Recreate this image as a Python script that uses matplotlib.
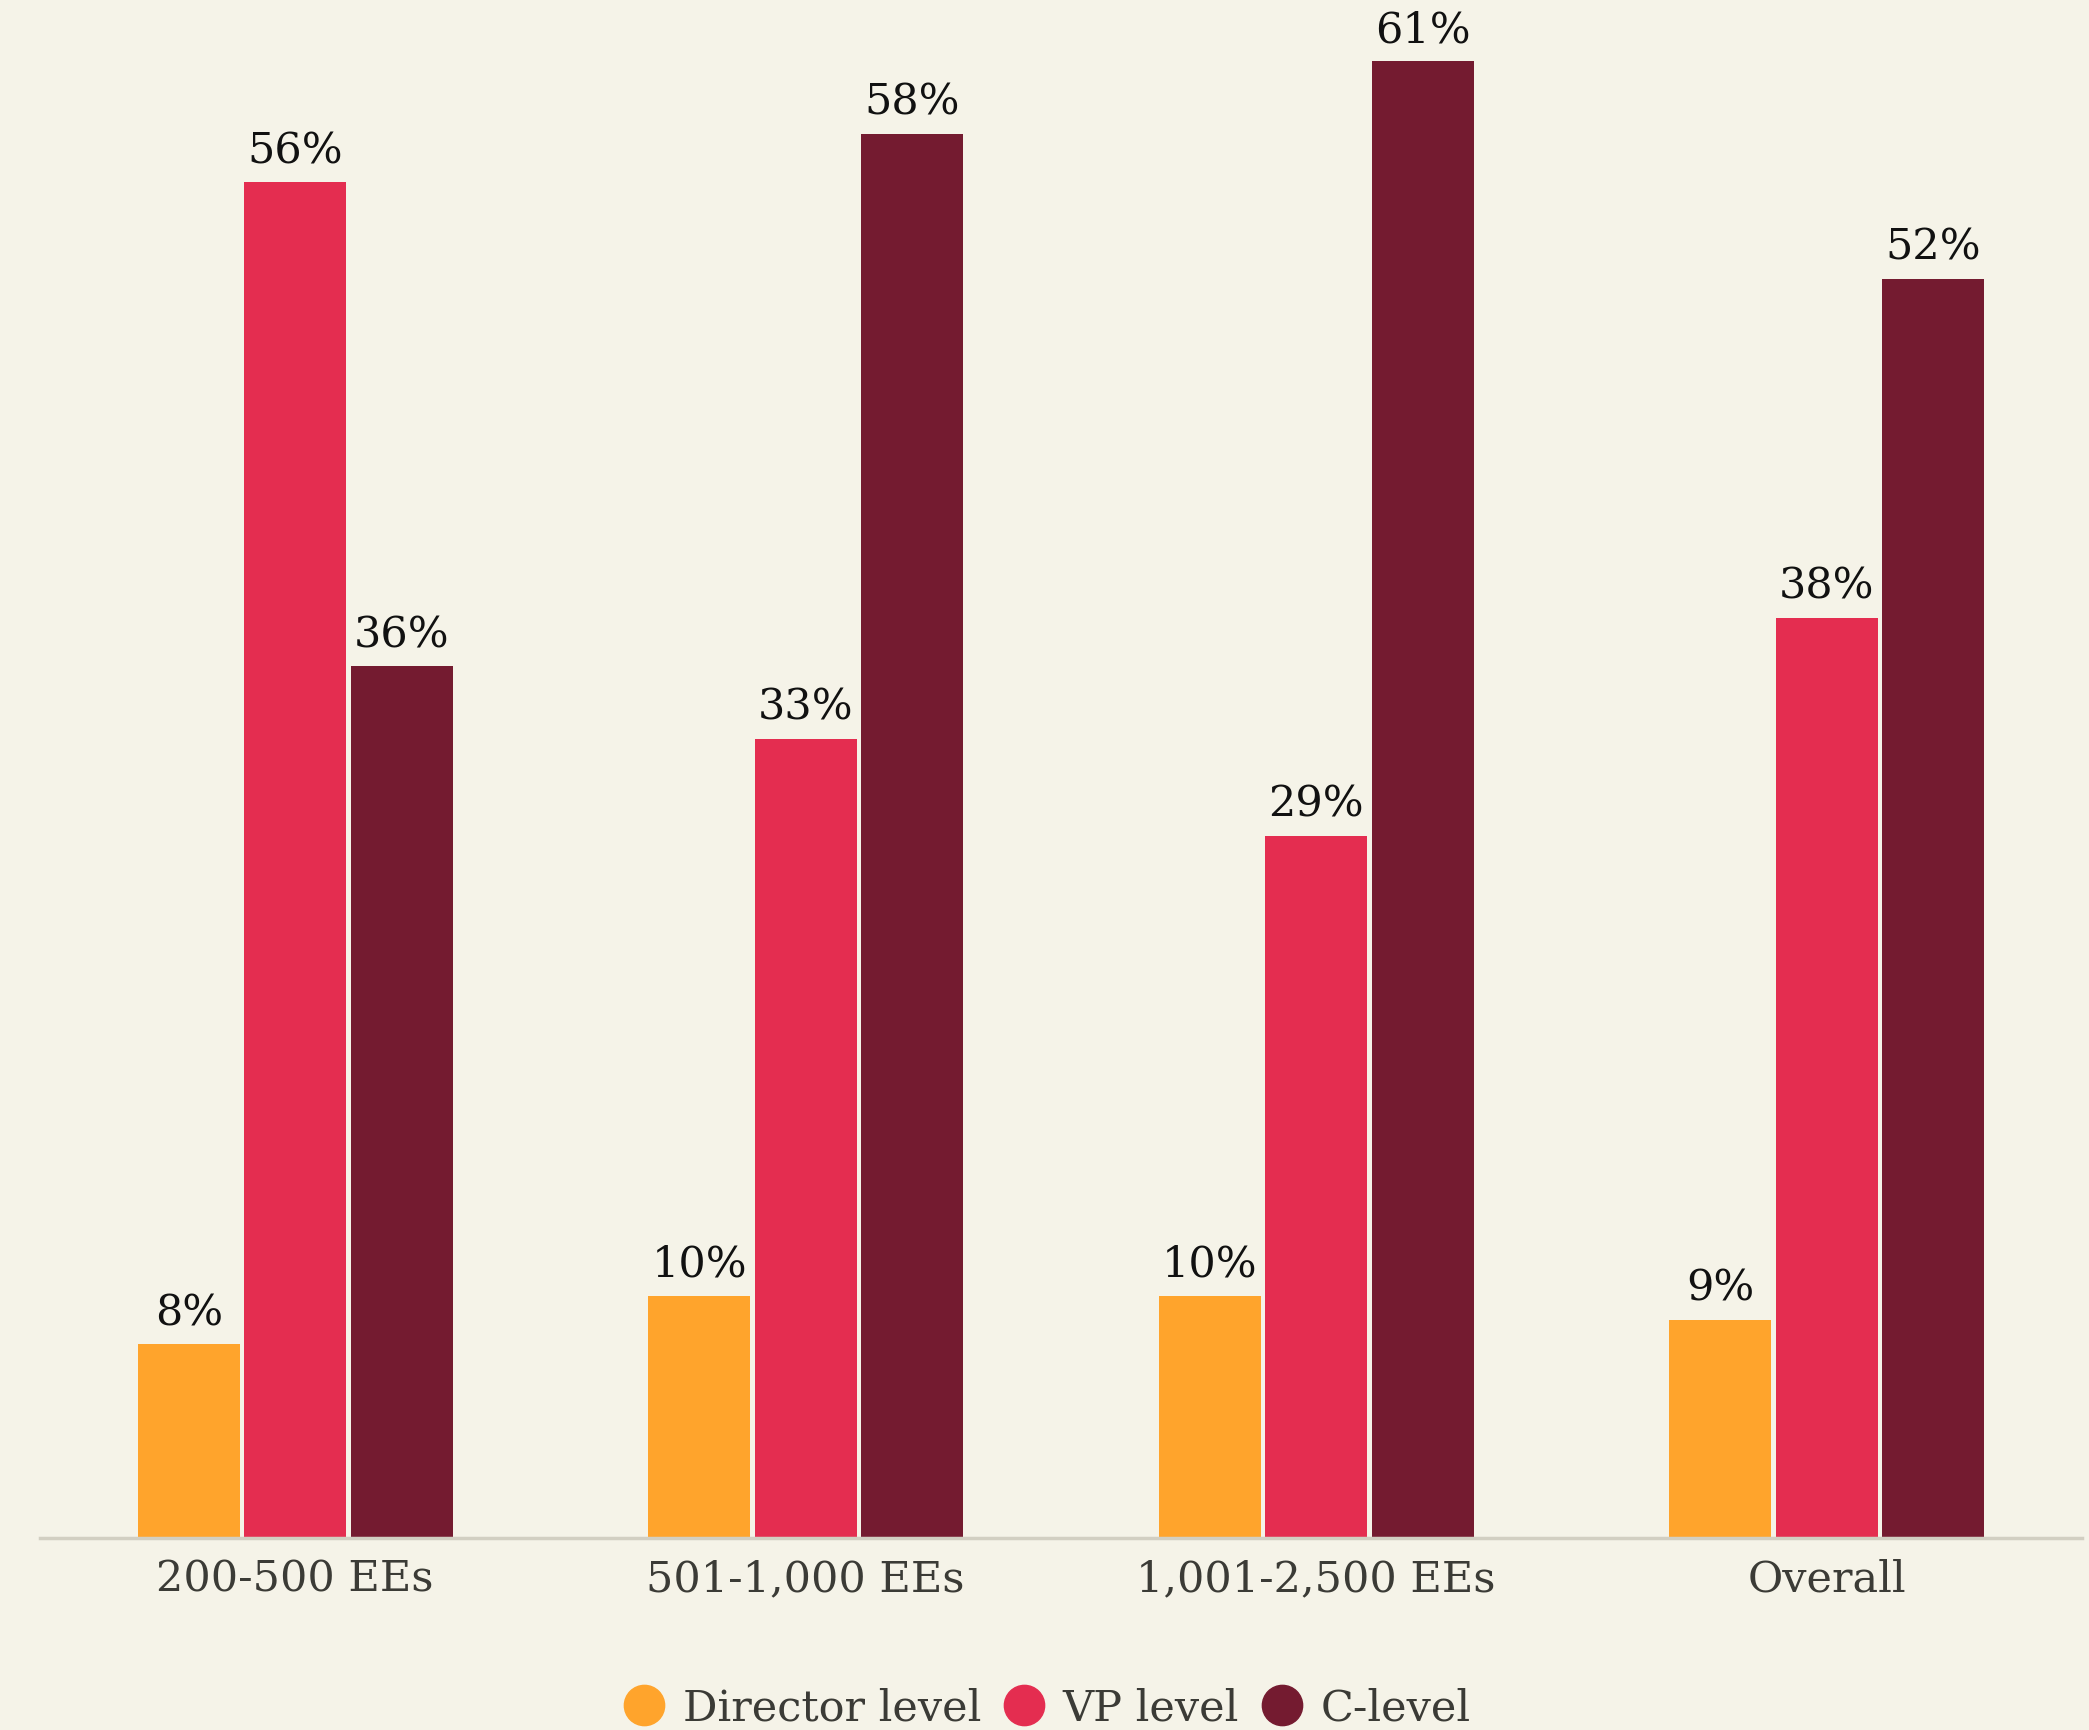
import numpy as np
import matplotlib.pyplot as plt
from matplotlib.lines import Line2D

categories = ["200-500 EEs", "501-1,000 EEs", "1,001-2,500 EEs", "Overall"]
series_names = ["Director level", "VP level", "C-level"]
director = [8, 10, 10, 9]
vp = [56, 33, 29, 38]
c_level = [36, 58, 61, 52]

colors = ["#ffa42c", "#e42d50", "#741b30"]
bg = "#f5f3e8"
W, H = 2089, 1731

plt.rcParams['font.family'] = ['DejaVu Serif']

fig = plt.figure(figsize=(W / 100, H / 100), dpi=100, facecolor=bg)
ax = fig.add_axes([40 / W, 192 / H, (2082 - 40) / W, (H - 192) / H])
ax.set_facecolor(bg)

x = np.arange(len(categories))
step = 0.2084
width = 0.1996
for k, vals in enumerate([director, vp, c_level]):
    pos = x + (k - 1) * step
    bars = ax.bar(pos, vals, width=width, color=colors[k], label=series_names[k])
    for b, v in zip(bars, vals):
        ax.annotate(f"{v}%", (b.get_x() + b.get_width() / 2, v),
                    xytext=(0, 8), textcoords="offset points",
                    ha="center", va="bottom", fontsize=31, color="#111111")

ax.set_xlim(-0.5, 3.5)
ax.set_ylim(0, (H - 192) / 24.21)
for s in ["top", "right", "left"]:
    ax.spines[s].set_visible(False)
ax.spines["bottom"].set_color("#d2cfc2")
ax.spines["bottom"].set_linewidth(2.5)
ax.set_yticks([])
ax.set_xticks(x)
ax.set_xticklabels(categories, fontsize=31, color="#3b3b36")
ax.tick_params(axis="x", length=0, pad=14)

handles = [Line2D([], [], marker="o", linestyle="", markersize=29,
                  markerfacecolor=c, markeredgecolor=c) for c in colors]
fig.legend(handles, series_names, loc="center", bbox_to_anchor=(0.5, 1 - 1709 / H),
           ncol=3, frameon=False, fontsize=31, labelcolor="#3b3b36",
           handletextpad=0.3, columnspacing=0.4, handlelength=1.2)

fig.savefig("out.png", dpi=100, facecolor=bg)
